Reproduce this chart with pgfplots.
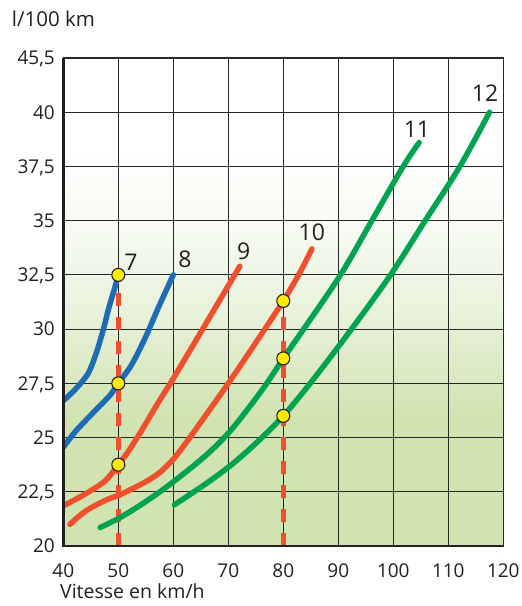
\documentclass[border=0pt]{standalone}
\usepackage{fontspec}
\setmainfont{Open Sans}
\usepackage{pgfplots}
\pgfplotsset{compat=1.18}
\definecolor{bggreen}{RGB}{208,227,176}
\definecolor{bgmid}{RGB}{231,241,216}
\definecolor{bglight}{RGB}{246,250,241}
\definecolor{cblue}{RGB}{30,108,182}
\definecolor{cred}{RGB}{239,79,45}
\definecolor{cgreen}{RGB}{0,164,80}
\definecolor{txt}{RGB}{35,31,32}
\definecolor{dotyellow}{RGB}{255,236,0}
\pgfdeclareverticalshading{bgshade}{100bp}{color(0bp)=(bggreen); color(38bp)=(bggreen); color(48bp)=(bgmid); color(57bp)=(bglight); color(66bp)=(white); color(100bp)=(white)}
\begin{document}
\begin{tikzpicture}
\begin{axis}[
  scale only axis, width=440pt, height=488pt,
  xmin=40, xmax=120, ymin=20, ymax=42.5,
  xtick={40,50,...,120},
  xticklabels={40,50,60,70,80,90,100,110,120},
  ytick={20,22.5,...,42.5},
  yticklabels={20,{22,5},25,{27,5},30,{32,5},35,{37,5},40,{45,5}},
  /pgf/number format/assume math mode=true,
  grid=major, grid style={black!85, line width=0.9pt},
  major tick length=0pt,
  axis line style={black!85, line width=1pt},
  axis background/.style={shading=bgshade},
  tick label style={font=\fontsize{19}{19}\selectfont, text=txt},
  xticklabel style={anchor=base, yshift=-31pt},
  yticklabel style={anchor=base east, xshift=-5pt, yshift=-6.8pt},
  every axis plot/.append style={line cap=round, line join=round},
]
% dashed guides
\addplot[cred, line width=5.3pt, line cap=butt, dash pattern=on 13.3pt off 10.7pt] coordinates {(50,20) (50,32.5)};
\addplot[cred, line width=5.3pt, line cap=butt, dash pattern=on 13.3pt off 10.7pt] coordinates {(80,20) (80,31.3)};
% curve 7
\addplot[cblue, line width=5.5pt, smooth, tension=0.5] coordinates {
 (40,26.7) (42.1,27.2) (44.5,27.95) (46.0,28.9) (47.3,30.0) (48.3,31.0) (49.3,31.85) (50,32.5)};
% curve 8
\addplot[cblue, line width=5.5pt, smooth, tension=0.5] coordinates {
 (40,24.55) (42.1,25.25) (44.3,25.85) (46.4,26.4) (48.5,26.95) (50,27.5) (52.4,28.35) (54.9,29.6) (57.3,31.0) (60,32.5)};
% curve 9
\addplot[cred, line width=5.5pt, smooth, tension=0.5] coordinates {
 (40,21.85) (44,22.4) (47.6,23.0) (50,23.75) (51.8,24.35) (54.3,25.35) (57,26.5) (59.7,27.6) (63,29.0) (66.5,30.5) (70,32.0) (72.1,32.9)};
% curve 10
\addplot[cred, line width=5.5pt, smooth, tension=0.5] coordinates {
 (41.2,21.0) (44,21.6) (47.6,22.1) (50.6,22.4) (54.9,22.95) (57.6,23.4) (60,24.0) (62,24.65) (64,25.35) (70,27.5) (75.2,29.45) (80,31.3) (83,32.6) (85.2,33.7)};
% curve 11
\addplot[cgreen, line width=5.5pt, smooth, tension=0.55] coordinates {
 (46.7,20.85) (50.6,21.35) (55,22.05) (59.7,22.9) (65.8,24.15) (70,25.2) (73.5,26.3) (77,27.5) (80,28.65) (83.7,30) (90.4,32.5) (96.1,35) (101.8,37.5) (104.7,38.6)};
% curve 12
\addplot[cgreen, line width=5.5pt, smooth, tension=0.55] coordinates {
 (60.2,21.9) (65.8,22.85) (70.6,23.75) (75.2,24.78) (80,26.0) (85.2,27.6) (92.4,30) (99.5,32.5) (105.8,35) (112.1,37.5) (117.5,40.0)};
% dots
\addplot[only marks, mark=*, mark size=6.5pt, mark options={fill=dotyellow, draw=txt, line width=1.1pt}] coordinates {
 (50,32.5) (50,27.5) (50,23.75) (80,31.3) (80,28.65) (80,26.0)};
% curve labels
\node[font=\fontsize{23}{23}\selectfont, text=txt] at (axis cs:52.3,33.1) {7};
\node[font=\fontsize{23}{23}\selectfont, text=txt] at (axis cs:62.1,33.2) {8};
\node[font=\fontsize{23}{23}\selectfont, text=txt] at (axis cs:72.8,33.6) {9};
\node[font=\fontsize{23}{23}\selectfont, text=txt] at (axis cs:85.2,34.45) {10};
\node[font=\fontsize{23}{23}\selectfont, text=txt] at (axis cs:104.3,39.2) {11};
\node[font=\fontsize{23}{23}\selectfont, text=txt] at (axis cs:116.7,40.9) {12};
\coordinate (tl) at (rel axis cs:0,1);
\coordinate (bl) at (rel axis cs:0,0);
\coordinate (br) at (rel axis cs:1,0);
\coordinate (tr) at (rel axis cs:1,1);
\end{axis}
\draw[line width=2.8pt, txt] (tl) -- (bl) -- (br);
\node[anchor=west, font=\fontsize{20.5}{20.5}\selectfont, text=txt, inner sep=0pt] at ([xshift=-51.6pt, yshift=39.5pt]tl) {l/100 km};
\node[anchor=west, font=\fontsize{19.5}{19.5}\selectfont, text=txt, inner sep=0pt] at ([xshift=-3.3pt, yshift=-45pt]bl) {Vitesse en km/h};
\pgfresetboundingbox
\path ([xshift=-63.3pt, yshift=-60pt]bl) rectangle ([xshift=18.7pt, yshift=58pt]tr);
\end{tikzpicture}
\end{document}
